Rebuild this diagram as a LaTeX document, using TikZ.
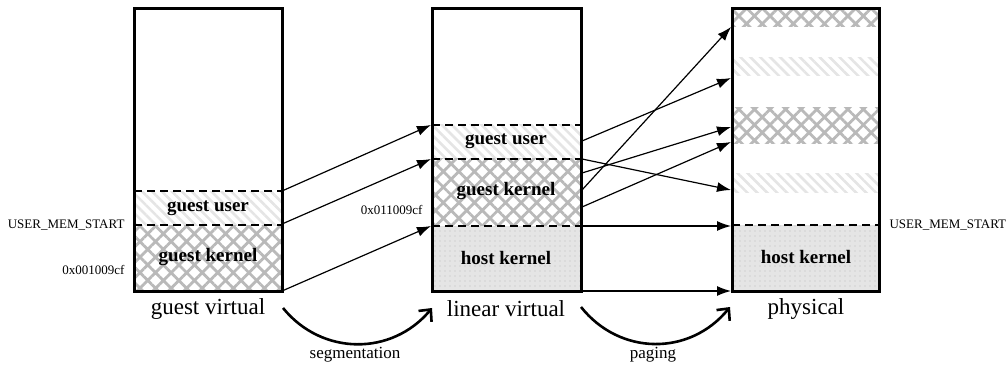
\documentclass[tikz,border=0pt]{standalone}
\usepackage{fontspec}
\setmainfont{Liberation Serif}
\usetikzlibrary{patterns.meta,arrows.meta}
\tikzset{
  frame/.style={draw=black,line width=3pt},
  xhatch/.style={pattern={Hatch[angle=45,distance=11pt,line width=2.8pt]},pattern color=gray!55},
  dhatch/.style={pattern={Lines[angle=-45,distance=7pt,line width=2.6pt]},pattern color=gray!20},
  hostfill/.style={fill=gray!20},
  hostdots/.style={pattern={Dots[distance=5pt,radius=0.9pt]},pattern color=gray!35},
  sepline/.style={dash pattern=on 8pt off 5pt,line width=1.4pt},
  maparrow/.style={-{Latex[length=14pt,width=10pt]},line width=1.2pt},
  transarrow/.style={-{Straight Barb[length=9pt,width=17pt]},line width=2.6pt},
  region/.style={font=\fontsize{19}{21}\selectfont\bfseries},
  boxcaption/.style={font=\fontsize{23}{26}\selectfont},
  addr/.style={font=\fontsize{13}{15}\selectfont},
  translabel/.style={font=\fontsize{17}{19}\selectfont},
}
\begin{document}
\begin{tikzpicture}[x=1pt,y=-1pt]
\useasboundingbox (0,0) rectangle (1008,366);

% ---------- guest virtual ----------
\fill[dhatch] (134,191) rectangle (282,225);
\fill[xhatch] (134,225) rectangle (282,291);
\draw[sepline] (134,191) -- (282,191);
\draw[sepline] (134,225) -- (282,225);
\draw[frame] (134,9) rectangle (282,291);
\node[region] (gvu) at (208,208) {guest user};
\node[region] (gvk) at (208,257) {guest kernel};
\node[boxcaption] (gvc) at (208,309) {guest virtual};
\node[addr,anchor=east] (ums1) at (128,225) {USER\_MEM\_START};
\node[addr,anchor=east] (a1) at (128,270) {0x001009cf};

% ---------- linear virtual ----------
\fill[dhatch] (432,125) rectangle (581,159);
\fill[xhatch] (432,159) rectangle (581,226);
\fill[hostfill] (432,226) rectangle (581,291);
\fill[hostdots] (432,226) rectangle (581,291);
\draw[sepline] (432,125) -- (581,125);
\draw[sepline] (432,159) -- (581,159);
\draw[sepline] (432,226) -- (581,226);
\draw[frame] (432,9) rectangle (581,291);
\node[region] (lvu) at (506,141) {guest user};
\node[region] (lvk) at (506,191) {guest kernel};
\node[region] (lvh) at (506,258) {host kernel};
\node[boxcaption] (lvc) at (506,309) {linear virtual};
\node[addr,anchor=east] (a2) at (426,210) {0x011009cf};

% ---------- physical ----------
\fill[xhatch] (732,9) rectangle (879,27);
\fill[dhatch] (732,58) rectangle (879,76);
\fill[xhatch] (732,108) rectangle (879,144);
\fill[dhatch] (732,174) rectangle (879,192);
\fill[hostfill] (732,225) rectangle (879,291);
\fill[hostdots] (732,225) rectangle (879,291);
\draw[sepline] (732,225) -- (879,225);
\draw[frame] (732,9) rectangle (879,291);
\node[region] (phh) at (806,257) {host kernel};
\node[boxcaption] (phc) at (806,309) {physical};
\node[addr,anchor=west] (ums2) at (886,225) {USER\_MEM\_START};

% ---------- coordinates ----------
\coordinate (g1) at (282,191);
\coordinate (g2) at (282,224);
\coordinate (g3) at (282,291);
\coordinate (l1in) at (431,125);
\coordinate (l2in) at (431,159);
\coordinate (l3in) at (431,226);
\coordinate (o1) at (582,141);
\coordinate (o2) at (582,159);
\coordinate (o3) at (582,173);
\coordinate (o4) at (582,190);
\coordinate (o5) at (582,207);
\coordinate (o6) at (582,226);
\coordinate (o7) at (582,291);
\coordinate (p1) at (731,27);
\coordinate (p2) at (731,78);
\coordinate (p3) at (731,127);
\coordinate (p4) at (731,142);
\coordinate (p5) at (731,190);
\coordinate (p6) at (731,226);
\coordinate (p7) at (731,291);

% ---------- mapping arrows ----------
\draw[maparrow] (g1) -- (l1in);
\draw[maparrow] (g2) -- (l2in);
\draw[maparrow] (g3) -- (l3in);
\draw[maparrow] (o1) -- (p2);
\draw[maparrow] (o2) -- (p5);
\draw[maparrow] (o3) -- (p3);
\draw[maparrow] (o4) -- (p1);
\draw[maparrow] (o5) -- (p4);
\draw[maparrow] (o6) -- (p6);
\draw[maparrow] (o7) -- (p7);

% ---------- translation arrows ----------
\coordinate (s0) at (283,308);
\coordinate (s1) at (432,308);
\coordinate (t0) at (581,307);
\coordinate (t1) at (730,307);
\draw[transarrow] (s0) .. controls (322,356) and (392,356) .. (s1);
\draw[transarrow] (t0) .. controls (620,356) and (690,356) .. (t1);
\node[translabel] (seg) at (355,355) {segmentation};
\node[translabel] (pag) at (653,355) {paging};
\end{tikzpicture}
\end{document}
